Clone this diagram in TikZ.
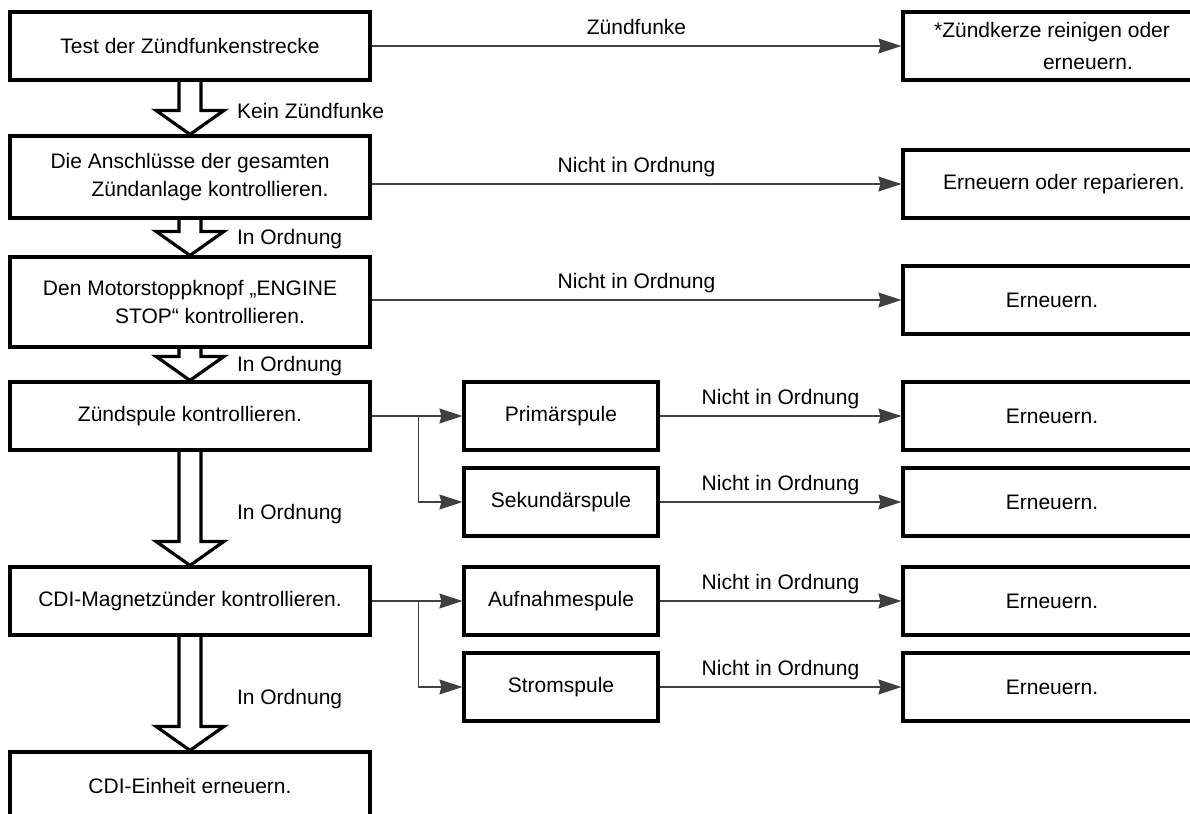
\documentclass[tikz,border=0pt]{standalone}
\usepackage{fontspec}
\setmainfont{Liberation Sans}
\usetikzlibrary{arrows.meta,calc}

\begin{document}
\begin{tikzpicture}[x=0.5pt,y=-0.5pt,
  >={Stealth[length=11.5pt,width=7.5pt,inset=1pt]},
  txt/.style={font=\fontsize{10.5pt}{14pt}\selectfont,text=black},
  box/.style={txt,draw,line width=1.6pt,minimum height=34pt,align=center,inner sep=2pt},
  lbox/.style={box,minimum width=180pt},
  mbox/.style={box,minimum width=97pt},
  rbox/.style={box,minimum width=149pt},
  conn/.style={line width=0.6pt,black!75},
  hollow/.style={line width=1.6pt,line join=miter}]
  \clip (0,0) rectangle (1190,814);
  % Pruefschritte links
  \node[lbox] (b1) at (190,46) {Test der Zündfunkenstrecke};
  \node[lbox,minimum height=41pt] (b2) at (190,177)
    {Die Anschlüsse der gesamten\\\hspace*{20pt}Zündanlage kontrollieren.};
  \node[lbox,minimum height=45pt] (b3) at (190,302)
    {Den Motorstoppknopf „ENGINE\\\hspace*{20pt}STOP“ kontrollieren.};
  \node[lbox] (b4) at (190,416) {Zündspule kontrollieren.};
  \node[lbox] (b5) at (190,601) {CDI-Magnetzünder kontrollieren.};
  \node[lbox] (b6) at (190,786) {CDI-Einheit erneuern.};
  \foreach \n/\y/\t [count=\i] in {1/416/Primärspule,2/502/Sekundärspule,
      3/601/Aufnahmespule,4/687/Stromspule}
    \node[mbox] (m\n) at (561,\y) {\t};
  \node[rbox] (r1) at (1052,46)
    {*Zündkerze reinigen oder\\[2pt]\hspace*{36pt}erneuern.};
  \node[rbox] (r2) at (1052,184) {\hspace*{12pt}Erneuern oder reparieren.};
  \foreach \n/\y in {3/300,4/416,5/502,6/601,7/687}
    \node[rbox] (r\n) at (1052,\y) {Erneuern.};
  % Blockpfeile nach unten
  \foreach \a/\b/\t in {b1/b2/Kein Zündfunke,b2/b3/In Ordnung,b3/b4/In Ordnung,
      b4/b5/In Ordnung,b5/b6/In Ordnung} {
    \draw[hollow] ($(\a.south)+(-11,0)$) -- ($(\b.north)+(-11,-24)$)
      -- ($(\b.north)+(-34,-24)$) -- (\b.north) -- ($(\b.north)+(34,-24)$)
      -- ($(\b.north)+(11,-24)$) -- ($(\a.south)+(11,0)$);
    \node[txt,anchor=west] (l\a) at ($(\a.south)!0.55!(\b.north)+(40,0)$) {\t};
  }
  \foreach \a/\b/\t in {b1/r1/Zündfunke,b2/r2/Nicht in Ordnung,b3/r3/Nicht in Ordnung,
      m1/r4/Nicht in Ordnung,m2/r5/Nicht in Ordnung,m3/r6/Nicht in Ordnung,
      m4/r7/Nicht in Ordnung}
    \draw[conn,->] (\a.east |- \b.west) -- (\b.west)
      node[txt,midway,anchor=base,yshift=6pt] (t\b) {\t};
  % Verzweigungen
  \coordinate (j1) at ($(b4.east)+(47,0)$);
  \coordinate (j2) at ($(b5.east)+(47,0)$);
  \draw[conn,->] (b4.east) -- (m1.west);
  \draw[conn,->] (j1) |- (m2.west);
  \draw[conn,->] (b5.east) -- (m3.west);
  \draw[conn,->] (j2) |- (m4.west);
\end{tikzpicture}
\end{document}
